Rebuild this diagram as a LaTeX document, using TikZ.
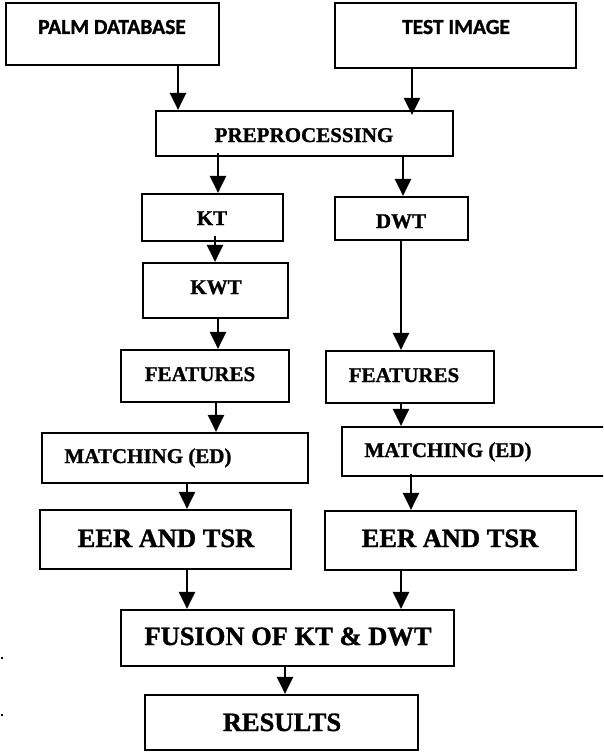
\documentclass[tikz,border=0pt]{standalone}
\usepackage{fontspec}
\setmainfont{Liberation Serif}[BoldFeatures={FakeBold=1.2}]
\newfontfamily\calib{Carlito}[BoldFeatures={FakeBold=1.2}]
\usetikzlibrary{arrows.meta}
\tikzset{
  boxa/.style={draw, line width=2.2pt, rectangle, inner sep=0pt},
  tsm/.style={anchor=base, inner sep=0pt, font=\fontsize{21}{23}\selectfont\bfseries},
  tbig/.style={anchor=base, inner sep=0pt, font=\fontsize{26.5}{28}\selectfont\bfseries},
  tcal/.style={anchor=base, inner sep=0pt, font=\calib\fontsize{21.5}{23}\selectfont\bfseries},
  arr/.style={line width=2.4pt, -{Triangle[length=17pt,width=16pt]}},
  dotn/.style={fill=black, inner sep=0pt, minimum size=2.5pt},
}
\begin{document}
\begin{tikzpicture}[x=1pt,y=-1pt]
\clip (0,0) rectangle (603,752);
\fill[white] (0,0) rectangle (603,752);
% boxes
\node[boxa, minimum width=213pt, minimum height=62pt] (palm) at (112.5,34) {};
\node[boxa, minimum width=241pt, minimum height=65pt] (test) at (455.5,35.5) {};
\node[boxa, minimum width=297pt, minimum height=45pt] (pre) at (304.5,133.5) {};
\node[boxa, minimum width=141pt, minimum height=47pt] (kt) at (212.5,217.5) {};
\node[boxa, minimum width=133pt, minimum height=43pt] (dwt) at (401.5,218.5) {};
\node[boxa, minimum width=145pt, minimum height=55pt] (kwt) at (215.5,290.5) {};
\node[boxa, minimum width=168pt, minimum height=52pt] (featL) at (205,376) {};
\node[boxa, minimum width=168pt, minimum height=52pt] (featR) at (410,377) {};
\node[boxa, minimum width=266pt, minimum height=50pt] (matchL) at (175,458) {};
\node[boxa, minimum width=270pt, minimum height=49pt] (matchR) at (477,451.5) {};
\node[boxa, minimum width=251pt, minimum height=59pt] (eerL) at (165.5,539.5) {};
\node[boxa, minimum width=251pt, minimum height=59pt] (eerR) at (450.5,540.5) {};
\node[boxa, minimum width=333pt, minimum height=56pt] (fusion) at (287.5,638) {};
\node[boxa, minimum width=273pt, minimum height=55pt] (results) at (281.5,722.5) {};
% texts
\node[tcal] (tpalm) at (112,34) {PALM DATABASE};
\node[tcal] (ttest) at (456,34) {TEST IMAGE};
\node[tsm] (tpre) at (304,142) {PREPROCESSING};
\node[tsm] (tkt) at (212,225) {KT};
\node[tsm] (tdwt) at (401,228) {DWT};
\node[tsm] (tkwt) at (216,294) {KWT};
\node[tsm] (tfeatL) at (200,381) {FEATURES};
\node[tsm] (tfeatR) at (404,382) {FEATURES};
\node[tsm] (tmatchL) at (148,463) {MATCHING (ED)};
\node[tsm] (tmatchR) at (448,457) {MATCHING (ED)};
\node[tbig] (teerL) at (166,547) {EER AND TSR};
\node[tbig] (teerR) at (450,547) {EER AND TSR};
\node[tbig] (tfusion) at (288,645) {FUSION OF KT \& DWT};
\node[tbig] (tresults) at (282,731) {RESULTS};
% stray dots
\node[dotn] (d1) at (2,658) {};
\node[dotn] (d2) at (2,715) {};
% arrow columns
\coordinate (x1) at (178,0);
\coordinate (x2) at (412,0);
\coordinate (x3) at (218,0);
\coordinate (x4) at (403,0);
\coordinate (x5) at (215,0);
\coordinate (x6) at (218,0);
\coordinate (x7) at (401,0);
\coordinate (x8) at (216,0);
\coordinate (x9) at (401,0);
\coordinate (x10) at (187,0);
\coordinate (x11) at (411,0);
\coordinate (x12) at (187,0);
\coordinate (x13) at (401,0);
\coordinate (x14) at (285,0);
\draw[arr] (palm.south -| x1) -- (pre.north -| x1);
\draw[arr, shorten >=-5pt] (test.south -| x2) -- (pre.north -| x2);
\draw[arr, shorten <=-4pt] (pre.south -| x3) -- (kt.north -| x3);
\draw[arr] (pre.south -| x4) -- (dwt.north -| x4);
\draw[arr, shorten <=-6pt] (kt.south -| x5) -- (kwt.north -| x5);
\draw[arr] (kwt.south -| x6) -- (featL.north -| x6);
\draw[arr] (dwt.south -| x7) -- (featR.north -| x7);
\draw[arr] (featL.south -| x8) -- (matchL.north -| x8);
\draw[arr] (featR.south -| x9) -- (matchR.north -| x9);
\draw[arr] (matchL.south -| x10) -- (eerL.north -| x10);
\draw[arr, shorten <=-3pt] (matchR.south -| x11) -- (eerR.north -| x11);
\draw[arr] (eerL.south -| x12) -- (fusion.north -| x12);
\draw[arr] (eerR.south -| x13) -- (fusion.north -| x13);
\draw[arr] (fusion.south -| x14) -- (results.north -| x14);
\end{tikzpicture}
\end{document}
